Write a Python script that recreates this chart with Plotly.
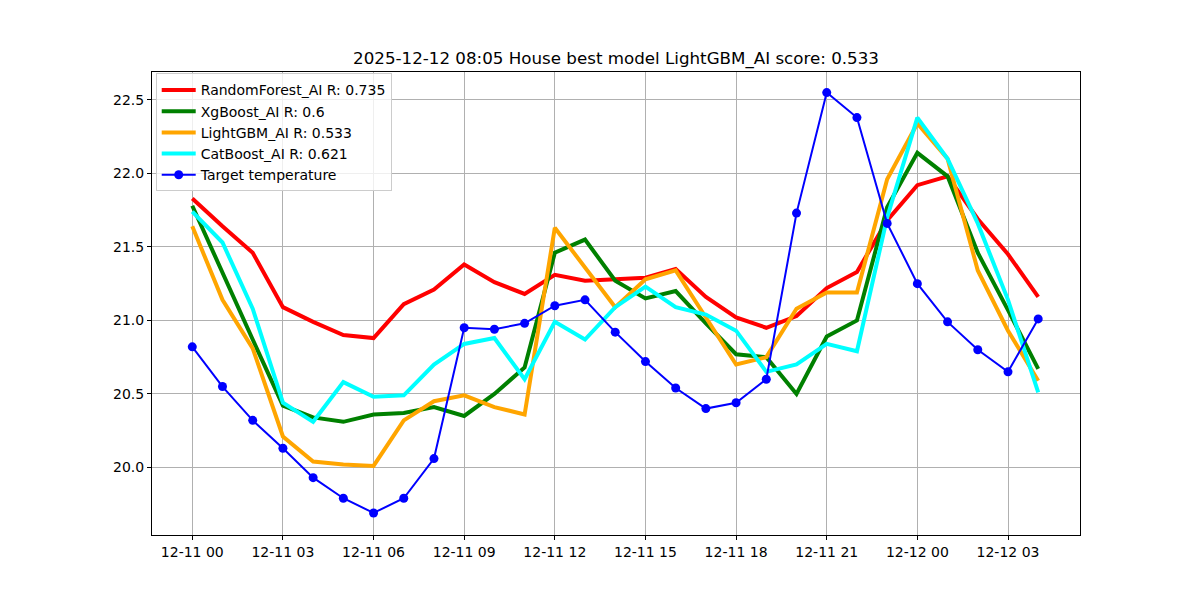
import plotly.graph_objects as go
import pandas as pd

times = pd.date_range("2025-12-11 00:00", periods=29, freq="h")

random_forest = [21.83, 21.64, 21.46, 21.09, 20.99, 20.90, 20.88, 21.11, 21.21, 21.38,
                 21.26, 21.18, 21.31, 21.27, 21.28, 21.29, 21.35, 21.16, 21.02, 20.95,
                 21.03, 21.22, 21.33, 21.68, 21.92, 21.98, 21.69, 21.45, 21.16]
xgboost = [21.78, 21.32, 20.87, 20.42, 20.34, 20.31, 20.36, 20.37, 20.41, 20.35,
           20.50, 20.68, 21.46, 21.55, 21.27, 21.15, 21.20, 20.98, 20.77, 20.75,
           20.50, 20.89, 21.00, 21.77, 22.14, 21.98, 21.46, 21.07, 20.67]
lightgbm = [21.64, 21.14, 20.81, 20.21, 20.04, 20.02, 20.01, 20.32, 20.45, 20.49,
            20.41, 20.36, 21.63, 21.36, 21.09, 21.28, 21.34, 21.02, 20.70, 20.75,
            21.08, 21.19, 21.19, 21.96, 22.34, 22.10, 21.34, 20.93, 20.59]
catboost = [21.74, 21.53, 21.08, 20.44, 20.31, 20.58, 20.48, 20.49, 20.70, 20.84,
            20.88, 20.60, 20.99, 20.87, 21.09, 21.23, 21.09, 21.04, 20.93, 20.65,
            20.70, 20.84, 20.79, 21.70, 22.38, 22.10, 21.66, 21.14, 20.51]
target = [20.82, 20.55, 20.32, 20.13, 19.93, 19.79, 19.69, 19.79, 20.06, 20.95,
          20.94, 20.98, 21.10, 21.14, 20.92, 20.72, 20.54, 20.40, 20.44, 20.60,
          21.73, 22.55, 22.38, 21.66, 21.25, 20.99, 20.80, 20.65, 21.01]

series = [
    ("RandomForest_AI R: 0.735", random_forest, "red"),
    ("XgBoost_AI R: 0.6", xgboost, "green"),
    ("LightGBM_AI R: 0.533", lightgbm, "orange"),
    ("CatBoost_AI R: 0.621", catboost, "cyan"),
]

fig = go.Figure()
for name, vals, color in series:
    fig.add_trace(go.Scatter(x=times, y=vals, mode="lines", name=name,
                             line=dict(color=color, width=4)))
fig.add_trace(go.Scatter(x=times, y=target, mode="lines+markers", name="Target temperature",
                         line=dict(color="blue", width=2),
                         marker=dict(color="blue", size=9)))

x0 = times[0] - pd.Timedelta(minutes=80)
x1 = times[-1] + pd.Timedelta(minutes=83)

font = "DejaVu Sans, Liberation Sans, sans-serif"
fig.update_layout(
    width=1200, height=600,
    margin=dict(l=152, r=120, t=72, b=65),
    paper_bgcolor="white", plot_bgcolor="white",
    font=dict(family=font, size=14, color="black"),
    title=dict(text="2025-12-12 08:05 House best model LightGBM_AI score: 0.533",
               x=0.5 * (152 + 1080) / 1200, xanchor="center", y=1 - 58 / 600, yanchor="middle",
               font=dict(size=16.7, family=font, color="black")),
    showlegend=True,
    legend=dict(x=0.004, y=0.997, xanchor="left", yanchor="top",
                bgcolor="rgba(255,255,255,0.8)", bordercolor="#cccccc", borderwidth=1,
                font=dict(size=14, family=font), tracegroupgap=0, itemwidth=34),
)
fig.update_xaxes(
    range=[x0, x1], type="date",
    dtick=3 * 3600000, tick0="2025-12-11 00:00", tickformat="%m-%d %H",
    showgrid=True, gridcolor="#b0b0b0", gridwidth=1,
    showline=True, linecolor="black", linewidth=1, mirror=True,
    ticks="outside", ticklen=4, tickcolor="black", zeroline=False,
)
fig.update_yaxes(
    range=[19.54, 22.69], dtick=0.5, tick0=20.0, tickformat=".1f",
    showgrid=True, gridcolor="#b0b0b0", gridwidth=1,
    showline=True, linecolor="black", linewidth=1, mirror=True,
    ticks="outside", ticklen=4, tickcolor="black", zeroline=False,
)

fig.write_html("out.html")
